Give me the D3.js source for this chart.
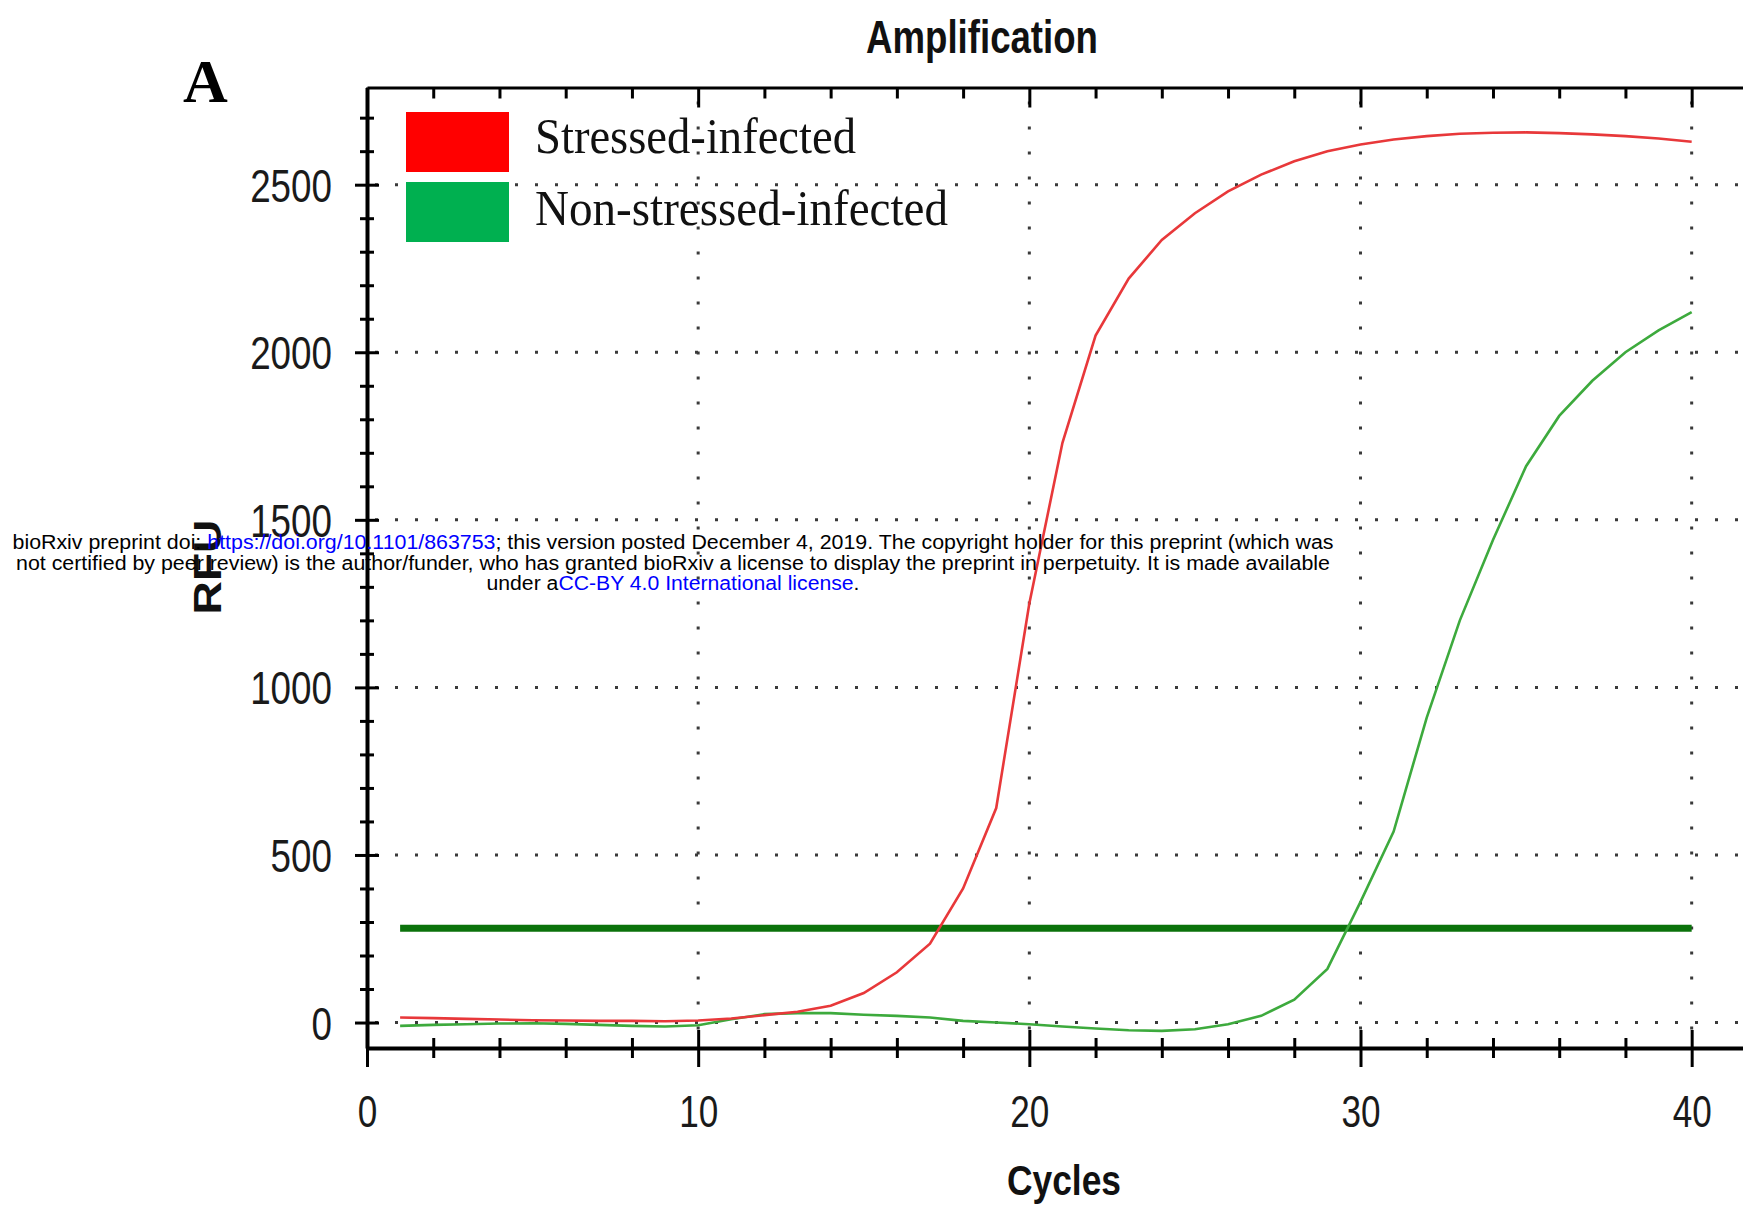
<!DOCTYPE html>
<html>
<head>
<meta charset="utf-8">
<script src="https://cdn.jsdelivr.net/npm/d3@7"></script>
<style>
    body { margin: 0; background: #ffffff; }
    svg { display: block; }
</style>
</head>
<body>
<div id="data-viz"></div>
<script>

// values (RFU per cycle)
var cycles = [1,2,3,4,5,6,7,8,9,10,11,12,13,14,15,16,17,18,19,20,21,22,23,24,25,26,27,28,29,30,31,32,33,34,35,36,37,38,39,40]

var stressedInfected = [15,13,11,9,7,6,5,5,4,6,12,22,32,50,88,150,235,400,640,1250,1730,2050,2220,2335,2415,2480,2530,2570,2600,2620,2635,2645,2652,2655,2656,2654,2650,2645,2638,2628]

var nonStressedInfected = [-10,-7,-5,-3,-2,-4,-7,-10,-12,-8,10,25,28,28,23,20,15,5,0,-5,-12,-18,-23,-25,-20,-5,20,68,160,360,570,910,1200,1440,1660,1810,1915,2000,2065,2120]

var thresholdValue = 281
var thresholdCycles = [1, 40]

var seriesNames = ["Stressed-infected", "Non-stressed-infected"]
var seriesColours = ["#ff0000", "#00b050"]
var lineColours = ["#e8383a", "#3daa3d"]

var xMajorTicks = [0, 10, 20, 30, 40]
var xMinorTicks = [0,2,4,6,8,10,12,14,16,18,20,22,24,26,28,30,32,34,36,38,40]
var yMajorTicks = [0, 500, 1000, 1500, 2000, 2500]
var yMinorTicks = [0,100,200,300,400,500,600,700,800,900,1000,1100,1200,1300,1400,1500,1600,1700,1800,1900,2000,2100,2200,2300,2400,2500,2600,2700]

// visible extent of the plot (the right edge is cut off in the original)
var xExtent = [0, 41.55]
var yExtent = [-76, 2790]

var width = 1743
var height = 1211

var sans = "'Liberation Sans', Arial, Helvetica, sans-serif"
var serif = "'Liberation Serif', 'Times New Roman', serif"

var svg = d3.select("#data-viz").append("svg")
    .attr("width", width)
    .attr("height", height)

svg.append("rect").attr("width", width).attr("height", height).attr("fill", "#ffffff")

var x = d3.scaleLinear().domain(xExtent).range([367, 1743])
var y = d3.scaleLinear().domain(yExtent).range([1048, 87.5])

// squeeze glyphs sideways, the original picture is horizontally compressed
function condense(selection, k) {
    selection.each(function() {
        var w = this.getComputedTextLength()
        d3.select(this)
            .attr("textLength", w * k)
            .attr("lengthAdjust", "spacingAndGlyphs")
    })
}

// dotted grid
var grid = svg.append("g").attr("class", "grid")

grid.selectAll(".hgrid")
    .data(yMajorTicks)
    .enter().append("line")
    .attr("x1", x(xExtent[0]) + 8)
    .attr("x2", width)
    .attr("y1", d => y(d))
    .attr("y2", d => y(d))
    .attr("stroke", "#3a3a3a")
    .attr("stroke-width", 3)
    .attr("stroke-dasharray", "3,17")

grid.selectAll(".vgrid")
    .data(xMajorTicks.filter(d => d > 0))
    .enter().append("line")
    .attr("x1", d => x(d))
    .attr("x2", d => x(d))
    .attr("y1", y(yExtent[1]) + 14)
    .attr("y2", y(yExtent[0]) - 8)
    .attr("stroke", "#3a3a3a")
    .attr("stroke-width", 3)
    .attr("stroke-dasharray", "3,22")

// top border with inward ticks
var topAxis = svg.append("g").attr("transform", `translate(0,${y(yExtent[1])})`)

topAxis.call(d3.axisTop(x).tickValues(xMinorTicks).tickSizeInner(-11).tickSizeOuter(0).tickFormat(""))

topAxis.selectAll(".tick line").filter(d => xMajorTicks.includes(d)).attr("y2", 20)

topAxis.select(".domain").attr("stroke-width", 3)
topAxis.selectAll(".tick line").attr("stroke-width", 3)

// bottom axis, ticks cross the line
var bottomAxis = svg.append("g").attr("transform", `translate(0,${y(yExtent[0])})`)

bottomAxis.call(d3.axisBottom(x).tickValues(xMinorTicks).tickSizeOuter(0).tickFormat(""))

bottomAxis.selectAll(".tick line")
    .attr("y1", d => xMajorTicks.includes(d) ? -18 : -10)
    .attr("y2", d => xMajorTicks.includes(d) ? 19 : 10)
    .attr("stroke-width", 3)

bottomAxis.select(".domain").attr("stroke-width", 4)

var xLabels = svg.append("g").attr("transform", `translate(0,${y(yExtent[0])})`)

xLabels.call(d3.axisBottom(x).tickValues(xMajorTicks).tickSize(0).tickPadding(0).tickFormat(d3.format("d")))

xLabels.select(".domain").remove()

xLabels.selectAll(".tick text")
    .attr("y", 79)
    .attr("dy", 0)
    .attr("font-family", sans)
    .attr("font-size", 45)
    .attr("fill", "#1a1a1a")
    .call(condense, 0.78)

// left axis, ticks cross the line
var leftAxis = svg.append("g").attr("transform", `translate(${x(xExtent[0])},0)`)

leftAxis.call(d3.axisLeft(y).tickValues(yMinorTicks).tickSizeOuter(0).tickFormat(""))

leftAxis.selectAll(".tick line")
    .attr("x1", d => yMajorTicks.includes(d) ? -12 : -7)
    .attr("x2", d => yMajorTicks.includes(d) ? 12 : 7)
    .attr("stroke-width", 3)

leftAxis.select(".domain").attr("stroke-width", 4)

var yLabels = svg.append("g").attr("transform", `translate(${x(xExtent[0])},0)`)

yLabels.call(d3.axisLeft(y).tickValues(yMajorTicks).tickSize(0).tickPadding(35).tickFormat(d3.format("d")))

yLabels.select(".domain").remove()

yLabels.selectAll(".tick text")
    .attr("font-family", sans)
    .attr("font-size", 46)
    .attr("dy", "0.36em")
    .attr("fill", "#1a1a1a")
    .call(condense, 0.8)

// threshold
svg.append("line")
    .attr("x1", x(thresholdCycles[0]))
    .attr("x2", x(thresholdCycles[1]))
    .attr("y1", y(thresholdValue))
    .attr("y2", y(thresholdValue))
    .attr("stroke", "#0b720b")
    .attr("stroke-width", 7)

// amplification curves
var line = d3.line()
    .x((d, i) => x(cycles[i]))
    .y(d => y(d))

svg.append("path")
    .datum(nonStressedInfected)
    .attr("d", line)
    .attr("fill", "none")
    .attr("stroke", lineColours[1])
    .attr("stroke-width", 2.6)

svg.append("path")
    .datum(stressedInfected)
    .attr("d", line)
    .attr("fill", "none")
    .attr("stroke", lineColours[0])
    .attr("stroke-width", 2.6)

// legend
var legend = svg.append("g")

seriesNames.forEach(function(name, i) {

    legend.append("rect")
        .attr("x", 406)
        .attr("y", 112 + i * 70)
        .attr("width", 103)
        .attr("height", 60)
        .attr("fill", seriesColours[i])

    legend.append("text")
        .attr("x", 535)
        .attr("y", 153 + i * 72)
        .attr("font-family", serif)
        .attr("font-size", 51)
        .attr("fill", "#111")
        .text(name)
        .attr("textLength", i === 0 ? 321 : 413)
        .attr("lengthAdjust", "spacingAndGlyphs")

})

// titles
svg.append("text")
    .attr("x", 982)
    .attr("y", 53)
    .attr("text-anchor", "middle")
    .attr("font-family", sans)
    .attr("font-weight", "bold")
    .attr("font-size", 46)
    .attr("fill", "#111")
    .text("Amplification")
    .attr("textLength", 232)
    .attr("lengthAdjust", "spacingAndGlyphs")

svg.append("text")
    .attr("x", 1064)
    .attr("y", 1195)
    .attr("text-anchor", "middle")
    .attr("font-family", sans)
    .attr("font-weight", "bold")
    .attr("font-size", 43)
    .attr("fill", "#111")
    .text("Cycles")
    .attr("textLength", 114)
    .attr("lengthAdjust", "spacingAndGlyphs")

svg.append("text")
    .attr("transform", "translate(221,567) rotate(-90)")
    .attr("text-anchor", "middle")
    .attr("font-family", sans)
    .attr("font-weight", "bold")
    .attr("font-size", 38)
    .attr("fill", "#111")
    .text("RFU")
    .attr("textLength", 95)
    .attr("lengthAdjust", "spacingAndGlyphs")

svg.append("text")
    .attr("x", 183)
    .attr("y", 102)
    .attr("font-family", serif)
    .attr("font-weight", "bold")
    .attr("font-size", 62)
    .attr("fill", "#000")
    .text("A")

// bioRxiv stamp across the figure
var stamp = svg.append("g")
    .attr("font-family", sans)
    .attr("font-size", 20)
    .attr("text-anchor", "middle")

var stampLines = [
    [["bioRxiv preprint doi: ", "#000"], ["https://doi.org/10.1101/863753", "#0000ff"], ["; this version posted December 4, 2019. The copyright holder for this preprint (which was", "#000"]],
    [["not certified by peer review) is the author/funder, who has granted bioRxiv a license to display the preprint in perpetuity. It is made available", "#000"]],
    [["under a", "#000"], ["CC-BY 4.0 International license", "#0000ff"], [".", "#000"]]
]

var stampWidths = [1321, 1314, 373]

stampLines.forEach(function(parts, i) {

    var t = stamp.append("text")
        .attr("x", 673)
        .attr("y", 549 + i * 20.5)
        .attr("textLength", stampWidths[i])
        .attr("lengthAdjust", "spacingAndGlyphs")

    parts.forEach(function(p) {
        t.append("tspan").attr("fill", p[1]).text(p[0])
    })

})

</script>
</body>
</html>
